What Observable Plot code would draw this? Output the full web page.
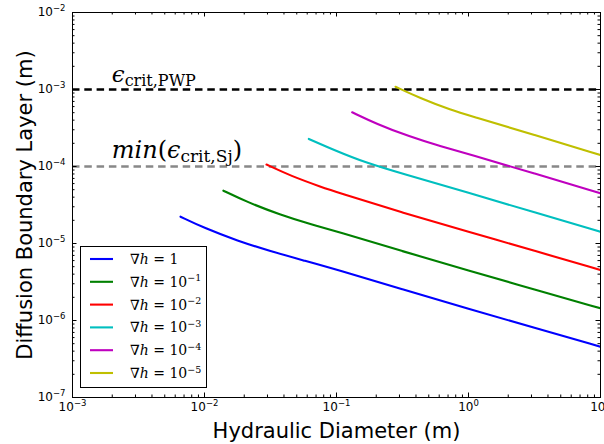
<!DOCTYPE html>
<html><head><meta charset="utf-8">
<script src="https://cdn.jsdelivr.net/npm/d3@7"></script>
<script src="https://cdn.jsdelivr.net/npm/@observablehq/plot@0.6"></script>
<style>body{margin:0;background:#fff;} svg{overflow:hidden;display:block}</style>
</head><body><div id="chart"></div>
<script>
// ---- data ----
const seriesNames = ["grad1", "grad1e-1", "grad1e-2", "grad1e-3", "grad1e-4", "grad1e-5"];
const legendExponents = [null, "−1", "−2", "−3", "−4", "−5"];
const lineColors = ["#0000ff", "#008000", "#ff0000", "#00bfbf", "#bf00bf", "#bfbf00"];

const D_grad1 = [0.00658, 0.01, 0.0178, 0.0316, 0.0562, 0.1, 0.316, 1, 3.16, 10];
const delta_grad1 = [2.23e-5, 1.585e-5, 1.084e-5, 7.94e-6, 6.03e-6, 4.59e-6, 2.53e-6, 1.42e-6, 8.02e-7, 4.57e-7];
const D_grad1e1 = [0.0139, 0.0209, 0.0372, 0.0661, 0.1, 0.316, 1, 3.16, 10];
const delta_grad1e1 = [4.85e-5, 3.47e-5, 2.37e-5, 1.74e-5, 1.44e-5, 7.94e-6, 4.45e-6, 2.53e-6, 1.44e-6];
const D_grad1e2 = [0.0295, 0.0447, 0.0794, 0.1, 0.316, 1, 3.16, 10];
const delta_grad1e2 = [1.06e-4, 7.59e-5, 5.31e-5, 4.67e-5, 2.51e-5, 1.42e-5, 8.04e-6, 4.53e-6];
const D_grad1e3 = [0.0617, 0.1, 0.166, 0.316, 1, 3.16, 10];
const delta_grad1e3 = [2.28e-4, 1.585e-4, 1.122e-4, 8.04e-5, 4.57e-5, 2.54e-5, 1.42e-5];
const D_grad1e4 = [0.1315, 0.1995, 0.355, 0.631, 1, 3.16, 10];
const delta_grad1e4 = [5.06e-4, 3.60e-4, 2.45e-4, 1.80e-4, 1.45e-4, 8.13e-5, 4.49e-5];
const D_grad1e5 = [0.28, 0.427, 0.759, 1, 3.16, 10];
const delta_grad1e5 = [1.086e-3, 7.76e-4, 5.31e-4, 4.62e-4, 2.57e-4, 1.41e-4];

const critPWP = 1e-3;
const critSjMin = 1e-4;

const xMajor = [1e-3, 1e-2, 1e-1, 1, 10];
const yMajor = [1e-7, 1e-6, 1e-5, 1e-4, 1e-3, 1e-2];

// ---- build table ----
const seriesD = [D_grad1, D_grad1e1, D_grad1e2, D_grad1e3, D_grad1e4, D_grad1e5];
const seriesDelta = [delta_grad1, delta_grad1e1, delta_grad1e2, delta_grad1e3, delta_grad1e4, delta_grad1e5];
const rows = seriesNames.flatMap((s, i) => seriesD[i].map((d, j) => ({series: s, D: d, delta: seriesDelta[i][j]})));

const minorX = [], minorY = [];
for (let e = -3; e < 1; e++) for (let k = 2; k < 10; k++) minorX.push(k * Math.pow(10, e));
for (let e = -7; e < -2; e++) for (let k = 2; k < 10; k++) minorY.push(k * Math.pow(10, e));

const W = 604, H = 444, mL = 72, mR = 4, mT = 12, mB = 47;
const innerW = W - mL - mR, innerH = H - mT - mB;
const majLen = 4.5, minLen = 2.5;
const expFmt = d => "10^" + Math.round(Math.log10(d));
const tk = {stroke: "black", strokeWidth: 1};

const svg = Plot.plot({
  width: W, height: H,
  marginLeft: mL, marginRight: mR, marginTop: mT, marginBottom: mB,
  style: {fontFamily: "DejaVu Sans", fontSize: "12px", color: "black", background: "white"},
  x: {type: "log", domain: [1e-3, 10]},
  y: {type: "log", domain: [1e-7, 1e-2]},
  color: {domain: seriesNames, range: lineColors},
  marks: [
    Plot.ruleY([critPWP], {y: d => d, stroke: "black", strokeWidth: 2.3, strokeDasharray: "7.5,4.8"}),
    Plot.ruleY([critSjMin], {y: d => d, stroke: "#888888", strokeWidth: 2.3, strokeDasharray: "7.5,4.8"}),
    Plot.line(rows, {x: "D", y: "delta", z: "series", stroke: "series", strokeWidth: 2.1, curve: "basis", clip: true}),
    // inward ticks on all four sides
    Plot.ruleX(xMajor, {x: d => d, insetTop: innerH - majLen, ...tk}),
    Plot.ruleX(xMajor, {x: d => d, insetBottom: innerH - majLen, ...tk}),
    Plot.ruleX(minorX, {x: d => d, insetTop: innerH - minLen, ...tk}),
    Plot.ruleX(minorX, {x: d => d, insetBottom: innerH - minLen, ...tk}),
    Plot.ruleY(yMajor, {y: d => d, insetRight: innerW - majLen, ...tk}),
    Plot.ruleY(yMajor, {y: d => d, insetLeft: innerW - majLen, ...tk}),
    Plot.ruleY(minorY, {y: d => d, insetRight: innerW - minLen, ...tk}),
    Plot.ruleY(minorY, {y: d => d, insetLeft: innerW - minLen, ...tk}),
    Plot.frame({stroke: "black", strokeWidth: 1}),
    Plot.axisX(xMajor, {anchor: "bottom", tickSize: 0, tickPadding: 5, tickFormat: expFmt, fontSize: 12, label: null}),
    Plot.axisY(yMajor, {anchor: "left", tickSize: 0, tickPadding: 7, tickFormat: expFmt, fontSize: 12, label: null}),
    Plot.text(["Hydraulic Diameter (m)"], {text: d => d, frameAnchor: "bottom", textAnchor: "middle", lineAnchor: "middle", dy: 33.5, fontSize: 21, fill: "black"}),
    Plot.text(["Diffusion Boundary Layer (m)"], {text: d => d, frameAnchor: "left", textAnchor: "middle", lineAnchor: "middle", rotate: -90, dx: -47, fontSize: 21, fill: "black"})
  ]
});

// superscript exponents for tick labels
d3.select(svg).selectAll('g[aria-label="x-axis tick label"] text, g[aria-label="y-axis tick label"] text').each(function () {
  const t = this.textContent;
  if (!t.includes("^")) return;
  const [base, e] = t.split("^");
  const sel = d3.select(this);
  sel.text(null);
  sel.append("tspan").text(base);
  sel.append("tspan").attr("dy", -5).attr("font-size", 8.5).text(e.replace("-", "−"));
});

const sx = svg.scale("x"), sy = svg.scale("y");
const root = d3.select(svg);
const serif = "'DejaVu Serif', 'Liberation Serif', serif";

// annotations
const a1 = root.append("text").attr("x", sx.apply(2e-3)).attr("y", sy.apply(critPWP) - 7.5)
  .attr("text-anchor", "start").attr("font-family", serif).attr("font-size", 23).attr("fill", "black");
a1.append("tspan").attr("font-style", "italic").text("ϵ");
a1.append("tspan").attr("font-size", 16).attr("dy", 4).text("crit,PWP");

const a2 = root.append("text").attr("x", sx.apply(2e-3)).attr("y", sy.apply(critSjMin) - 8.5)
  .attr("text-anchor", "start").attr("font-family", serif).attr("font-size", 24).attr("fill", "black");
a2.append("tspan").attr("font-style", "italic").text("min");
a2.append("tspan").text("(");
a2.append("tspan").attr("font-style", "italic").text("ϵ");
a2.append("tspan").attr("font-size", 17).attr("dy", 4).text("crit,Sj");
a2.append("tspan").attr("dy", -4).text(")");

// legend
const lg = root.append("g");
lg.append("rect").attr("x", 80.5).attr("y", 246.5).attr("width", 126).attr("height", 141)
  .attr("fill", "white").attr("stroke", "black").attr("stroke-width", 1);
seriesNames.forEach((s, i) => {
  const cy = 259 + i * 22.8;
  lg.append("line").attr("x1", 90).attr("x2", 113).attr("y1", cy).attr("y2", cy)
    .attr("stroke", lineColors[i]).attr("stroke-width", 2.1);
  const t = lg.append("text").attr("x", 130).attr("y", cy + 5).attr("text-anchor", "start")
    .attr("font-family", serif).attr("font-size", 14).attr("fill", "black");
  t.append("tspan").text("∇");
  t.append("tspan").attr("font-style", "italic").text("h");
  if (legendExponents[i] === null) {
    t.append("tspan").text(" = 1");
  } else {
    t.append("tspan").text(" = 10");
    t.append("tspan").attr("dy", -5.5).attr("font-size", 9.5).text(legendExponents[i]);
  }
});

document.getElementById("chart").appendChild(svg);
</script>
</body></html>
